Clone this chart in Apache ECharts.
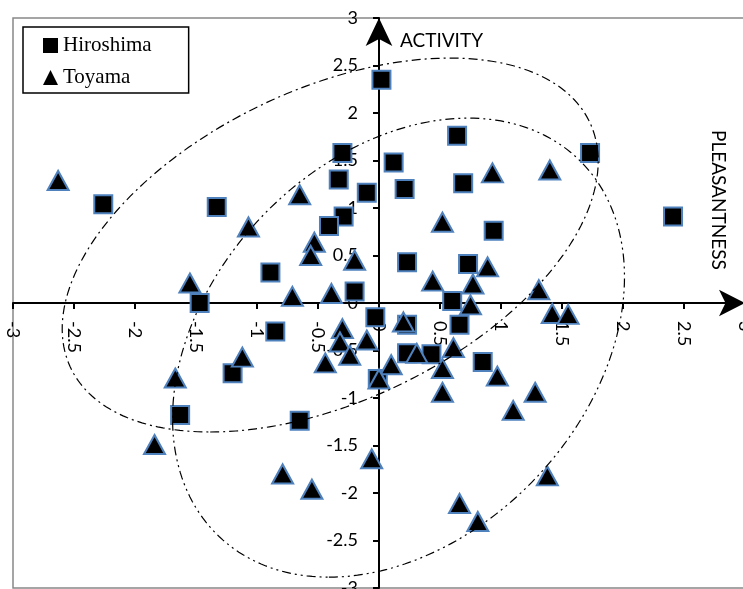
<!DOCTYPE html>
<html>
<head>
<meta charset="utf-8">
<script src="https://cdn.jsdelivr.net/npm/echarts@6/dist/echarts.min.js"></script>
<style>
  html, body { margin: 0; padding: 0; background: #fff; }
  #chart { width: 743px; height: 589px; }
</style>
</head>
<body>
<div id="chart"></div>
<script>
// [pleasantness, activity]
var hiroshima = [
  [0.02, 2.35], [-2.26, 1.04], [-1.33, 1.01], [-1.47, 0.0], [-1.20, -0.74],
  [-1.63, -1.18], [-0.65, -1.24], [0.64, 1.76], [-0.30, 1.58], [0.12, 1.48],
  [-0.33, 1.30], [-0.10, 1.16], [0.21, 1.20], [0.69, 1.26], [1.73, 1.58],
  [2.41, 0.91], [-0.29, 0.91], [-0.41, 0.81], [-0.89, 0.32], [-0.20, 0.12],
  [0.23, 0.43], [0.94, 0.76], [0.73, 0.41], [0.60, 0.02], [0.66, -0.23],
  [-0.85, -0.30], [-0.03, -0.15], [0.23, -0.23], [0.23, -0.53], [0.43, -0.54],
  [0.85, -0.62], [-0.01, -0.80]
];
var toyama = [
  [-2.63, 1.29], [-0.65, 1.14], [0.93, 1.37], [1.40, 1.40], [-1.07, 0.80],
  [-1.55, 0.21], [-0.53, 0.64], [-0.56, 0.50], [-0.20, 0.45], [0.52, 0.85],
  [-0.71, 0.07], [-0.39, 0.10], [0.44, 0.23], [0.89, 0.38], [0.77, 0.20],
  [0.75, -0.02], [1.31, 0.14], [1.42, -0.11], [1.55, -0.12], [0.20, -0.20],
  [-0.30, -0.27], [-0.32, -0.41], [-0.10, -0.39], [-0.24, -0.55], [-0.44, -0.63],
  [0.10, -0.65], [0.31, -0.53], [0.61, -0.47], [0.52, -0.69], [0.97, -0.77],
  [0.00, -0.80], [0.52, -0.94], [-1.67, -0.79], [-1.12, -0.57], [-1.84, -1.49],
  [-0.79, -1.80], [-0.55, -1.96], [-0.06, -1.64], [0.66, -2.11], [0.81, -2.30],
  [1.28, -0.94], [1.10, -1.13], [1.38, -1.82]
];

// ellipses: centre and two half-axis vectors (data units)
var ellipseCenters = [[-0.40, 0.61], [0.16, -0.47]];
var ellipseAxisU = [[-0.984, -1.968], [-0.571, -2.416]];
var ellipseAxisV = [[1.964, 0], [1.762, 0]];
var ellipseDash = [[9, 4, 2, 4], [9, 4, 2, 4, 2, 4]];

var chart = echarts.init(document.getElementById('chart'));

var labelFont = { color: '#000', fontSize: 18, fontFamily: 'Lato' };
var gridW = 732, gridH = 570;

var option = {
  backgroundColor: '#fff',
  animation: false,
  grid: {
    left: 13, top: 18, width: gridW, height: gridH,
    show: true, borderColor: '#888', borderWidth: 1.5,
    containLabel: false, outerBoundsMode: 'none'
  },
  legend: {
    orient: 'vertical',
    left: 23, top: 27,
    padding: [8, 37, 5, 20],
    itemGap: 11,
    itemWidth: 15, itemHeight: 15,
    borderColor: '#000', borderWidth: 1.5,
    backgroundColor: '#fff',
    textStyle: { fontFamily: 'Liberation Serif', fontSize: 21, color: '#000' },
    itemStyle: { borderWidth: 0, color: '#000' },
    data: [{ name: 'Hiroshima', icon: 'rect' }, { name: 'Toyama', icon: 'triangle' }]
  },
  // axes sit in the middle of the grid (they cross at 0,0)
  xAxis: {
    type: 'value', min: -3, max: 3, interval: 0.5,
    position: 'bottom', offset: -gridH / 2,
    splitLine: { show: false },
    axisLine: {
      onZero: false,
      lineStyle: { color: '#000', width: 2 },
      symbol: ['none', 'arrow'], symbolSize: [20, 26]
    },
    axisTick: { length: 6, lineStyle: { color: '#000', width: 2 } },
    axisLabel: Object.assign({ show: true, rotate: -90, margin: 18, showMinLabel: true, showMaxLabel: true }, labelFont)
  },
  yAxis: {
    type: 'value', min: -3, max: 3, interval: 0.5,
    position: 'left', offset: -gridW / 2,
    splitLine: { show: false },
    axisLine: {
      onZero: false,
      lineStyle: { color: '#000', width: 2 },
      symbol: ['none', 'arrow'], symbolSize: [20, 28]
    },
    axisTick: { length: 6, lineStyle: { color: '#000', width: 2 } },
    axisLabel: Object.assign({ show: true, margin: 21, showMinLabel: true, showMaxLabel: true }, labelFont)
  },
  graphic: [
    {
      type: 'text', x: 400, y: 41,
      style: { text: 'ACTIVITY', fontSize: 19, fontFamily: 'Lato', fill: '#000', align: 'left', verticalAlign: 'middle' }
    },
    {
      type: 'text', x: 718, y: 130, rotation: -Math.PI / 2,
      style: { text: 'PLEASANTNESS', fontSize: 19, fontFamily: 'Lato', fill: '#000', align: 'left', verticalAlign: 'middle' }
    }
  ],
  series: [
    {
      name: 'Hiroshima', type: 'scatter', symbol: 'rect', symbolSize: 18,
      itemStyle: { color: '#000', borderColor: '#4f81bd', borderWidth: 2, opacity: 1 },
      data: hiroshima, z: 3
    },
    {
      name: 'Toyama', type: 'scatter', symbol: 'triangle', symbolSize: [21, 19],
      itemStyle: { color: '#000', borderColor: '#4f81bd', borderWidth: 2, opacity: 1 },
      data: toyama, z: 4
    },
    {
      type: 'custom', z: 5, silent: true, clip: false,
      encode: { x: 0, y: 1 },
      data: ellipseCenters,
      renderItem: function (params, api) {
        var i = params.dataIndex;
        var c = ellipseCenters[i], u = ellipseAxisU[i], v = ellipseAxisV[i];
        var pts = [];
        for (var k = 0; k <= 240; k++) {
          var t = k / 240 * Math.PI * 2;
          pts.push(api.coord([
            c[0] + u[0] * Math.cos(t) + v[0] * Math.sin(t),
            c[1] + u[1] * Math.cos(t) + v[1] * Math.sin(t)
          ]));
        }
        return {
          type: 'polyline',
          shape: { points: pts },
          style: { stroke: '#000', lineWidth: 1.2, fill: null, lineDash: ellipseDash[i] }
        };
      }
    }
  ]
};

chart.setOption(option);
</script>
</body>
</html>
